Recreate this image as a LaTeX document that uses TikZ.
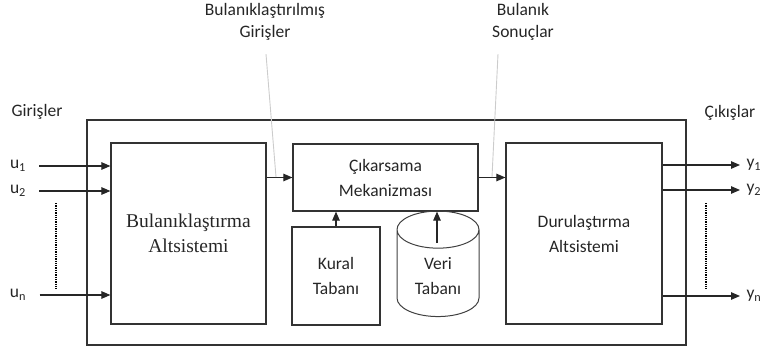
\documentclass[tikz,border=0pt]{standalone}
\usepackage{fontspec}
\setmainfont{Carlito}
\newfontfamily\timesfont{Liberation Serif}
\usetikzlibrary{shapes.geometric, arrows.meta}

\begin{document}
\begin{tikzpicture}[x=1pt, y=-1pt, font=\fontsize{17.5}{25}\selectfont, text=black!85,
    box/.style={draw=black!80, line width=1.2pt, align=center, inner sep=0pt},
    sig/.style={-{Triangle[length=9pt,width=7.5pt]}, line width=1.1pt, draw=black!85},
    leader/.style={draw=black!20, line width=0.9pt}]
        \useasboundingbox (0,0) rectangle (764,353);

        % Draw the outer system box
        \node[box, minimum width=599pt, minimum height=225pt] (system) at (386.5,232.5) {};

        % Draw the inner blocks
        \node[box, minimum width=155pt, minimum height=181pt, font=\timesfont\fontsize{19.5}{25}\selectfont]
            (fuzz) at (188.5,233.5) {Bulanıklaştırma\\Altsistemi};
        \node[box, minimum width=185pt, minimum height=67pt] (infer) at (385.5,177.5) {Çıkarsama\\Mekanizması};
        \node[box, minimum width=88pt, minimum height=98pt] (kural) at (336,276) {Kural\\Tabanı};
        \node[draw=black!75, line width=1pt, cylinder, shape border rotate=90, aspect=0.7,
            minimum width=82pt, minimum height=98pt] (veri) at (438,277)
            {\raisebox{-8pt}{\begin{tabular}{@{}c@{}}Veri\\Tabanı\end{tabular}}};
        \node[box, minimum width=156pt, minimum height=181pt] (defuzz) at (584,233.5) {Durulaştırma\\Altsistemi};
        \coordinate (veritop) at (437,243);

        % Connect the blocks
        \draw[sig] (fuzz.east |- infer.west) -- (infer.west);
        \draw[sig] (infer.east) -- (defuzz.west |- infer.east);
        \draw[sig] (kural.north) -- (kural.north |- infer.south);
        \draw[sig] (veritop) -- (veritop |- infer.south);

        % Inputs and outputs
        \node (inlab) at (37,112) {Girişler};
        \node (outlab) at (730,113) {Çıkışlar};
        \foreach \n/\s/\y in {u1/1/166, u2/2/191, un/n/295} {
            \node (\n) at (18,\y) {u\textsubscript{\s}};
            \draw[sig] ([xshift=10pt]\n.east) -- (fuzz.west |- \n);
        }
        \foreach \n/\s/\y in {y1/1/165, y2/2/190, yn/n/296} {
            \node[anchor=west] (\n) at (743,\y) {y\textsubscript{\s}};
            \draw[sig] (defuzz.east |- \n) -- ([xshift=-3pt]\n.west);
        }
        \draw[line width=2pt, dash pattern=on 1.3pt off 1pt] (56,203) -- (56,290);
        \draw[line width=2pt, dash pattern=on 1.3pt off 1pt] (706,203) -- (706,290);

        % Label the intermediate signals
        \node[align=center, font=\fontsize{17.5}{22}\selectfont] (fzlab) at (265,22) {Bulanıklaştırılmış\\Girişler};
        \node[align=center, font=\fontsize{17.5}{22}\selectfont] (fslab) at (523,22) {Bulanık\\Sonuçlar};
        \coordinate (fzpt) at (276,177);
        \coordinate (fspt) at (492,177);
        \draw[leader] ([shift={(1pt,-10pt)}]fzlab.south) -- (fzpt);
        \draw[leader] ([shift={(-25pt,-10pt)}]fslab.south) -- (fspt);
    \end{tikzpicture}
\end{document}
